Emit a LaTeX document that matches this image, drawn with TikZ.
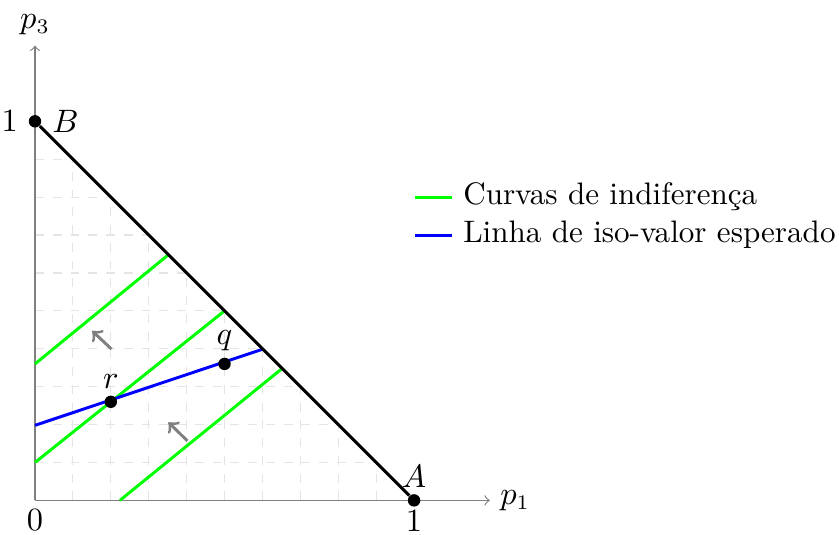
\documentclass[tikz,border=0pt]{standalone}
\usetikzlibrary{positioning}
\begin{document}
\begin{tikzpicture}[x=4.5cm, y=4.5cm,
  every node/.style={font=\fontsize{10.5pt}{12.6pt}\selectfont},
  axisline/.style={gray, ->},
  gridline/.style={gray!20, dashed},
  indif/.style={green, line width=1pt},
  isoval/.style={blue, line width=1pt},
  dot/.style={circle, fill=black, inner sep=0pt, minimum size=4.2pt},
  hint/.style={gray, line width=1pt, ->}]
\useasboundingbox (-0.0923,-0.0899) rectangle (2.121,1.320);
\coordinate (O) at (0,0);
\coordinate (xend) at (1.2,0);
\coordinate (yend) at (0,1.2);
% grid only inside the simplex
\begin{scope}
  \clip (0,0) -- (1,0) -- (0,1) -- cycle;
  \draw[gridline, step=0.1] (0,0) grid (1,1);
\end{scope}
\draw[axisline] (O) -- (xend) node[right, black] {$p_1$};
\draw[axisline] (O) -- (yend) node[above, black] {$p_3$};
\node[below=-0.5pt] (zero) at (O) {$0$};
% indifference curves
\draw[indif] (0,0.36) -- (0.352,0.648);
\draw[indif] (0,0.1) -- (0.5,0.5);
\draw[indif] (0.224,0) -- (0.652,0.348);
% iso expected value line
\draw[isoval] (0,0.198) -- (0.601,0.399);
\node[dot, label={[label distance=-1.5pt]above:$A$}, label={[label distance=-2.5pt]below:$1$}] (A) at (1,0) {};
\node[dot, label={right:$B$}, label={left:$1$}] (B) at (0,1) {};
\draw[line width=1pt] (B) -- (A);
\node[dot, label={[label distance=-1.5pt]above:$r$}] (r) at (0.2,0.26) {};
\node[dot, label={[label distance=-1.5pt]above:$q$}] (q) at (0.5,0.36) {};
% direction of preference
\draw[hint] (0.202,0.399) -- (0.151,0.447);
\draw[hint] (0.402,0.157) -- (0.352,0.206);
% legend
\draw[indif] (1.003,0.8) -- (1.1,0.8) node[right, black] (leg1) {Curvas de indiferença};
\draw[isoval] (1.003,0.7) -- (1.1,0.7) node[right, black] (leg2) {Linha de iso-valor esperado};
\end{tikzpicture}
\end{document}
